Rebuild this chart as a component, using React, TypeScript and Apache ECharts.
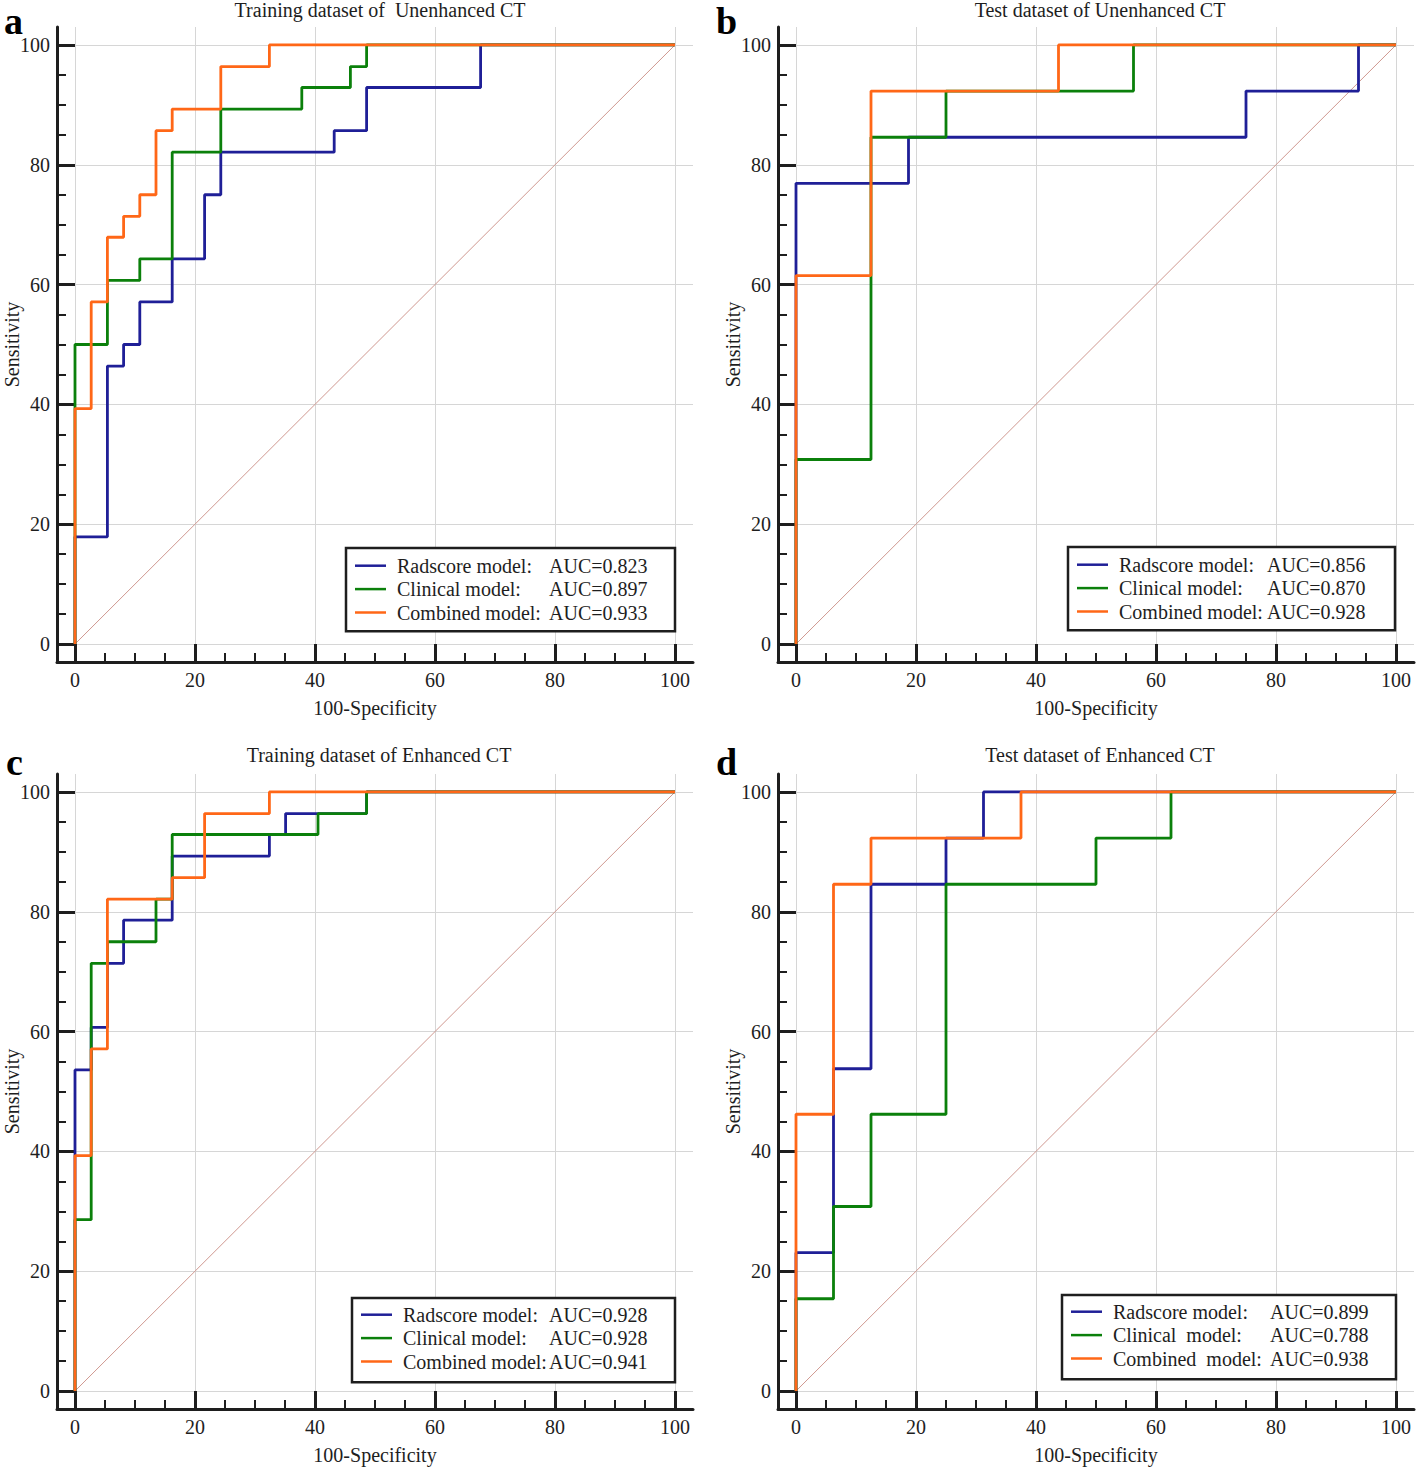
import React, { useEffect, useRef } from "react";
import * as echarts from "echarts";

// ---------- data ----------
const tickValues = [0, 20, 40, 60, 80, 100];
const minorTickValues = [5, 10, 15, 25, 30, 35, 45, 50, 55, 65, 70, 75, 85, 90, 95];
const xAxisName = "100-Specificity";
const yAxisName = "Sensitivity";

const panelLetters = ["a", "b", "c", "d"];
const panelTitles = [
  "Training dataset of  Unenhanced CT",
  "Test dataset of Unenhanced CT",
  "Training dataset of Enhanced CT",
  "Test dataset of Enhanced CT",
];

const modelNamesABC = ["Radscore model:", "Clinical model:", "Combined model:"];
const modelNamesD = ["Radscore model:", "Clinical  model:", "Combined  model:"];

const aucA = ["0.823", "0.897", "0.933"];
const aucB = ["0.856", "0.870", "0.928"];
const aucC = ["0.928", "0.928", "0.941"];
const aucD = ["0.899", "0.788", "0.938"];

// Reference (chance) line
const diagFpr = [0, 100];
const diagTpr = [0, 100];

// ROC staircase vertices (vertical step first, then horizontal)
// Panel a: training, unenhanced CT
const aRadFpr = [0, 5.4, 8.1, 10.8, 16.2, 21.6, 24.3, 43.2, 48.6, 67.6, 100];
const aRadTpr = [0, 17.9, 46.4, 50.0, 57.1, 64.3, 75.0, 82.1, 85.7, 92.9, 100];
const aCliFpr = [0, 5.4, 10.8, 16.2, 24.3, 37.8, 45.9, 48.6, 100];
const aCliTpr = [0, 50.0, 60.7, 64.3, 82.1, 89.3, 92.9, 96.4, 100];
const aComFpr = [0, 2.7, 5.4, 8.1, 10.8, 13.5, 16.2, 24.3, 32.4, 100];
const aComTpr = [0, 39.3, 57.1, 67.9, 71.4, 75.0, 85.7, 89.3, 96.4, 100];

// Panel b: test, unenhanced CT
const bRadFpr = [0, 18.75, 75, 93.75, 100];
const bRadTpr = [0, 76.9, 84.6, 92.3, 100];
const bCliFpr = [0, 12.5, 25, 56.25, 100];
const bCliTpr = [0, 30.8, 84.6, 92.3, 100];
const bComFpr = [0, 12.5, 43.75, 100];
const bComTpr = [0, 61.5, 92.3, 100];

// Panel c: training, enhanced CT
const cRadFpr = [0, 2.7, 5.4, 8.1, 16.2, 32.4, 35.1, 48.6, 100];
const cRadTpr = [0, 53.6, 60.7, 71.4, 78.6, 89.3, 92.9, 96.4, 100];
const cCliFpr = [0, 2.7, 5.4, 13.5, 16.2, 40.5, 48.6, 100];
const cCliTpr = [0, 28.6, 71.4, 75.0, 82.1, 92.9, 96.4, 100];
const cComFpr = [0, 2.7, 5.4, 16.2, 21.6, 32.4, 100];
const cComTpr = [0, 39.3, 57.1, 82.1, 85.7, 96.4, 100];

// Panel d: test, enhanced CT
const dRadFpr = [0, 6.25, 12.5, 25, 31.25, 100];
const dRadTpr = [0, 23.1, 53.8, 84.6, 92.3, 100];
const dCliFpr = [0, 6.25, 12.5, 25, 50, 62.5, 100];
const dCliTpr = [0, 15.4, 30.8, 46.2, 84.6, 92.3, 100];
const dComFpr = [0, 6.25, 12.5, 37.5, 100];
const dComTpr = [0, 46.2, 84.6, 92.3, 100];

// ---------- styling / layout ----------
const FONT = '"Liberation Serif", "Times New Roman", serif';
const INK = "#1e1e1e";
const COLORS = ["#1f1f97", "#0b800b", "#ff6717"];
const DIAG_COLOR = "#cf9890";
const GRID_COLOR = "#d6d6d6";

type PanelLayout = {
  grid: { left: number; top: number };
  title: { x: number; y: number };
  letter: { x: number; y: number };
  legend: { left: number; top: number; padding: number[]; nameWidth: number };
};

const layouts: PanelLayout[] = [
  { grid: { left: 57, top: 27 }, title: { x: 380, y: 10 }, letter: { x: 4, y: 21 }, legend: { left: 346, top: 548, padding: [6, 26, 7, 9], nameWidth: 152 } },
  { grid: { left: 778, top: 27 }, title: { x: 1100, y: 10 }, letter: { x: 716, y: 21 }, legend: { left: 1068, top: 547, padding: [6, 28, 7, 9], nameWidth: 148 } },
  { grid: { left: 57, top: 774 }, title: { x: 379, y: 755 }, letter: { x: 6, y: 762 }, legend: { left: 352, top: 1298, padding: [5, 26, 9, 9], nameWidth: 146 } },
  { grid: { left: 778, top: 774 }, title: { x: 1100, y: 755 }, letter: { x: 716, y: 762 }, legend: { left: 1062, top: 1295, padding: [5, 26, 9, 9], nameWidth: 157 } },
];

const panelSeries = [
  { names: modelNamesABC, auc: aucA, curves: [[aRadFpr, aRadTpr], [aCliFpr, aCliTpr], [aComFpr, aComTpr]] },
  { names: modelNamesABC, auc: aucB, curves: [[bRadFpr, bRadTpr], [bCliFpr, bCliTpr], [bComFpr, bComTpr]] },
  { names: modelNamesABC, auc: aucC, curves: [[cRadFpr, cRadTpr], [cCliFpr, cCliTpr], [cComFpr, cComTpr]] },
  { names: modelNamesD, auc: aucD, curves: [[dRadFpr, dRadTpr], [dCliFpr, dCliTpr], [dComFpr, dComTpr]] },
];

const zip = (xs: number[], ys: number[]) => xs.map((x, i) => [x, ys[i]]);

function buildOption() {
  const grid: any[] = [];
  const xAxis: any[] = [];
  const yAxis: any[] = [];
  const series: any[] = [];
  const legend: any[] = [];
  const graphic: any[] = [];
  const labelMap: Record<string, [string, string]> = {};

  const labelStyle = { fontFamily: FONT, fontSize: 20, color: INK };

  layouts.forEach((L, p) => {
    grid.push({
      left: L.grid.left,
      top: L.grid.top,
      width: 636,
      height: 635,
      containLabel: false,
      outerBoundsMode: "none",
    });

    const majorCommon = (isX: boolean) => ({
      type: "value",
      gridIndex: p,
      min: -3,
      max: 103,
      position: isX ? "bottom" : "left",
      axisLine: { show: true, onZero: false, lineStyle: { color: INK, width: 3 } },
      axisTick: { show: true, inside: true, length: 18, customValues: tickValues, lineStyle: { color: INK, width: 3 } },
      axisLabel: { show: true, customValues: tickValues, margin: isX ? 8 : 7, ...labelStyle },
      splitLine: { show: true, lineStyle: { color: GRID_COLOR, width: 1 } },
      name: isX ? xAxisName : yAxisName,
      nameLocation: "middle",
      nameGap: isX ? 36 : 35,
      nameMoveOverlap: false,
      nameTextStyle: { ...labelStyle },
    });
    const minorCommon = (isX: boolean) => ({
      type: "value",
      gridIndex: p,
      min: -3,
      max: 103,
      position: isX ? "bottom" : "left",
      axisLine: { show: false, onZero: false },
      axisTick: { show: true, inside: true, length: 9, customValues: minorTickValues, lineStyle: { color: INK, width: 2 } },
      axisLabel: { show: false },
      splitLine: { show: false },
    });
    xAxis.push(majorCommon(true));
    xAxis.push(minorCommon(true));
    yAxis.push(majorCommon(false));
    yAxis.push(minorCommon(false));

    const ax = xAxis.length - 2;
    const ay = yAxis.length - 2;

    series.push({
      type: "line",
      xAxisIndex: ax,
      yAxisIndex: ay,
      data: zip(diagFpr, diagTpr),
      symbol: "none",
      silent: true,
      lineStyle: { color: DIAG_COLOR, width: 1 },
    });

    const ps = panelSeries[p];
    const names: string[] = [];
    ps.curves.forEach((c, k) => {
      const name = `${panelLetters[p]}-${k}`;
      names.push(name);
      labelMap[name] = [ps.names[k], `AUC=${ps.auc[k]}`];
      series.push({
        type: "line",
        name,
        xAxisIndex: ax,
        yAxisIndex: ay,
        data: zip(c[0], c[1]),
        step: "start",
        symbol: "none",
        silent: true,
        color: COLORS[k],
        lineStyle: { color: COLORS[k], width: 2.8 },
      });
    });

    legend.push({
      data: names,
      left: L.legend.left,
      top: L.legend.top,
      orient: "vertical",
      icon: "rect",
      itemWidth: 31,
      itemHeight: 2.5,
      itemGap: 0,
      selectedMode: false,
      padding: L.legend.padding,
      borderColor: INK,
      borderWidth: 2.5,
      borderRadius: 0,
      backgroundColor: "#ffffff",
      formatter: (name: string) => `{n|${labelMap[name][0]}}{v|${labelMap[name][1]}}`,
      textStyle: {
        fontFamily: FONT,
        fontSize: 20,
        lineHeight: 23.4,
        height: 23.4,
        color: INK,
        padding: [0, 0, 0, 6],
        rich: {
          n: { fontFamily: FONT, fontSize: 20, color: INK, width: L.legend.nameWidth, lineHeight: 23.4, height: 23.4 },
          v: { fontFamily: FONT, fontSize: 20, color: INK, width: 100, lineHeight: 23.4, height: 23.4 },
        },
      },
    });

    graphic.push({
      type: "text",
      x: L.title.x,
      y: L.title.y,
      silent: true,
      style: { text: panelTitles[p], font: `20px ${FONT}`, fill: INK, align: "center", verticalAlign: "middle" },
    });
    graphic.push({
      type: "text",
      x: L.letter.x,
      y: L.letter.y,
      silent: true,
      style: { text: panelLetters[p], font: `bold 38px ${FONT}`, fill: "#000", align: "left", verticalAlign: "middle" },
    });
  });

  return {
    animation: false,
    backgroundColor: "#ffffff",
    grid,
    xAxis,
    yAxis,
    series,
    legend,
    graphic,
  };
}

export default function App() {
  const ref = useRef<HTMLDivElement>(null);
  useEffect(() => {
    document.body.style.margin = "0";
    document.body.style.overflow = "hidden";
    if (!ref.current) return;
    const chart = echarts.init(ref.current, undefined, { renderer: "svg" });
    chart.setOption(buildOption() as any);
    return () => chart.dispose();
  }, []);
  return <div ref={ref} style={{ width: 1416, height: 1469, background: "#fff" }} />;
}
